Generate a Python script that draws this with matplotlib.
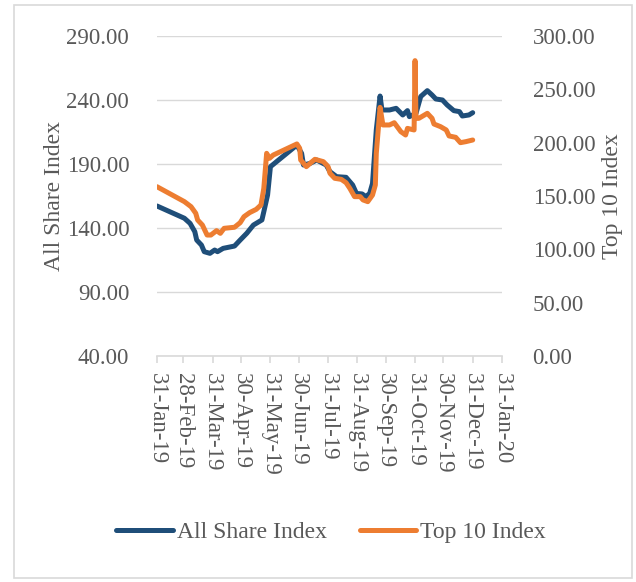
import numpy as np
import matplotlib
matplotlib.use("Agg")
import matplotlib.pyplot as plt
import matplotlib.dates as mdates
import pandas as pd
from matplotlib.patches import Rectangle

# All Share Index (left axis)
asi_dates = ["2019-01-31", "2019-03-01", "2019-03-07", "2019-03-12", "2019-03-14",
             "2019-03-19", "2019-03-22", "2019-03-28", "2019-04-02", "2019-04-05",
             "2019-04-11", "2019-04-23", "2019-04-29", "2019-05-06", "2019-05-13",
             "2019-05-22", "2019-05-24", "2019-05-28", "2019-05-31", "2019-06-28",
             "2019-07-03", "2019-07-05", "2019-07-12", "2019-07-19", "2019-07-29",
             "2019-08-02", "2019-08-09", "2019-08-19", "2019-08-26", "2019-08-30",
             "2019-09-05", "2019-09-09", "2019-09-13", "2019-09-16", "2019-09-20",
             "2019-09-24", "2019-09-26", "2019-10-04", "2019-10-11", "2019-10-18",
             "2019-10-23", "2019-10-25", "2019-11-01", "2019-11-06", "2019-11-13",
             "2019-11-18", "2019-11-22", "2019-11-29", "2019-12-04", "2019-12-11",
             "2019-12-17", "2019-12-20", "2019-12-27", "2019-12-31"]
asi_vals = [157.2, 147.6, 143.6, 137.1, 130.6,
            126.7, 121.5, 120.2, 122.8, 121.5,
            124.1, 125.9, 130.6, 135.9, 142.3,
            146.3, 152.7, 165.8, 187.9, 204.8,
            198.3, 189.2, 190.5, 193.1, 189.2,
            184.0, 180.1, 179.6, 173.6, 167.0,
            166.6, 164.5, 167.0, 174.8, 216.6,
            243.1, 232.2, 232.2, 233.5, 228.3,
            231.7, 227.0, 229.6, 242.7, 247.3,
            243.9, 240.8, 240.0, 236.1, 231.7,
            230.9, 227.5, 228.3, 230.1]

# Top 10 Index (right axis)
top_dates = ["2019-01-31", "2019-03-01", "2019-03-08", "2019-03-13", "2019-03-15",
             "2019-03-20", "2019-03-25", "2019-03-29", "2019-04-04", "2019-04-08",
             "2019-04-12", "2019-04-23", "2019-04-29", "2019-05-03", "2019-05-09",
             "2019-05-16", "2019-05-21", "2019-05-24", "2019-05-27", "2019-05-30",
             "2019-06-03", "2019-06-28", "2019-07-01", "2019-07-02", "2019-07-08",
             "2019-07-12", "2019-07-17", "2019-07-26", "2019-07-31", "2019-08-02",
             "2019-08-07", "2019-08-14", "2019-08-19", "2019-08-23", "2019-08-28",
             "2019-09-03", "2019-09-06", "2019-09-11", "2019-09-16", "2019-09-19",
             "2019-09-20", "2019-09-24", "2019-09-27", "2019-10-04", "2019-10-09",
             "2019-10-16", "2019-10-21", "2019-10-23", "2019-10-30", "2019-10-31",
             "2019-11-01", "2019-11-04", "2019-11-13", "2019-11-18", "2019-11-20",
             "2019-11-27", "2019-12-03", "2019-12-06", "2019-12-13", "2019-12-18",
             "2019-12-24", "2019-12-31"]
top_vals = [158.7, 144.7, 140.0, 133.8, 127.5,
            122.8, 113.4, 113.4, 117.5, 115.0,
            119.7, 120.7, 125.0, 130.6, 134.4,
            137.5, 141.6, 157.2, 190.0, 185.3,
            188.4, 198.8, 194.7, 183.8, 177.5,
            180.6, 184.4, 182.2, 177.5, 171.3,
            166.6, 165.6, 162.5, 157.2, 149.4,
            149.4, 146.3, 144.7, 150.9, 160.3,
            190.0, 233.1, 216.6, 216.6, 218.7,
            210.3, 207.2, 213.4, 211.9, 276.9,
            222.8, 222.8, 227.5, 222.8, 217.5,
            215.0, 211.9, 206.3, 205.0, 200.0,
            201.0, 202.5]

left_ticks = [40, 90, 140, 190, 240, 290]
right_ticks = [0, 50, 100, 150, 200, 250, 300]
month_ends = pd.date_range("2019-01-31", "2020-01-31", freq="ME")

blue = "#1f4e79"
orange = "#ed7d31"
grey_txt = "#595959"
grid_c = "#d9d9d9"
fs = 16.5

plt.rcParams["font.family"] = ["Liberation Serif", "DejaVu Serif"]

fig = plt.figure(figsize=(6.36, 5.82), dpi=100)
ax = fig.add_axes([157 / 636, 1 - 356 / 582, 345 / 636, 320 / 582])
ax2 = ax.twinx()

ax.plot(pd.to_datetime(asi_dates), asi_vals, color=blue, lw=3.6,
        solid_capstyle="round", solid_joinstyle="round", label="All Share Index")
ax2.plot(pd.to_datetime(top_dates), top_vals, color=orange, lw=3.6,
         solid_capstyle="round", solid_joinstyle="round", label="Top 10 Index")

ax.set_ylim(40, 290)
ax.set_yticks(left_ticks)
ax.set_yticklabels([f"{v:.2f}" for v in left_ticks])
ax2.set_ylim(0, 300)
ax2.set_yticks(right_ticks)
ax2.set_yticklabels([f"{v:.2f}" for v in right_ticks])

ax.set_xlim(month_ends[0], month_ends[-1])
ax.set_xticks(month_ends)
ax.xaxis.set_major_formatter(mdates.DateFormatter("%d-%b-%y"))

ax.grid(axis="y", color=grid_c, lw=1)
ax.set_axisbelow(True)
for a in (ax, ax2):
    for s in a.spines.values():
        s.set_visible(False)
ax.spines["bottom"].set_visible(True)
ax.spines["bottom"].set_color(grid_c)
ax.spines["bottom"].set_linewidth(1.2)

ax.tick_params(axis="x", direction="out", length=5, color=grid_c, width=1.2,
               labelsize=fs, labelcolor=grey_txt, pad=7, labelrotation=-90)
ax.tick_params(axis="y", length=0, labelsize=fs, labelcolor=grey_txt, pad=20)
ax2.tick_params(axis="y", length=0, labelsize=fs, labelcolor=grey_txt, pad=22)
for lbl in ax.get_xticklabels():
    lbl.set_va("top")
    lbl.set_ha("center")

ax.set_ylabel("All Share Index", fontsize=fs + 0.5, color=grey_txt, labelpad=1)
ax2.set_ylabel("Top 10 Index", fontsize=fs + 0.5, color=grey_txt, labelpad=5)

h1, l1 = ax.get_legend_handles_labels()
h2, l2 = ax2.get_legend_handles_labels()
fig.legend(h1 + h2, l1 + l2, loc="center", bbox_to_anchor=(331 / 636, 1 - 532 / 582),
           ncol=2, frameon=False, fontsize=fs + 0.5, labelcolor=grey_txt,
           handlelength=2.4, handletextpad=0.15, columnspacing=1.4)

fig.patches.append(Rectangle((14 / 636, 4 / 582), 618 / 636, 573 / 582,
                             transform=fig.transFigure, fill=False,
                             edgecolor=grid_c, lw=1.2))

fig.savefig("out.png", dpi=100)
